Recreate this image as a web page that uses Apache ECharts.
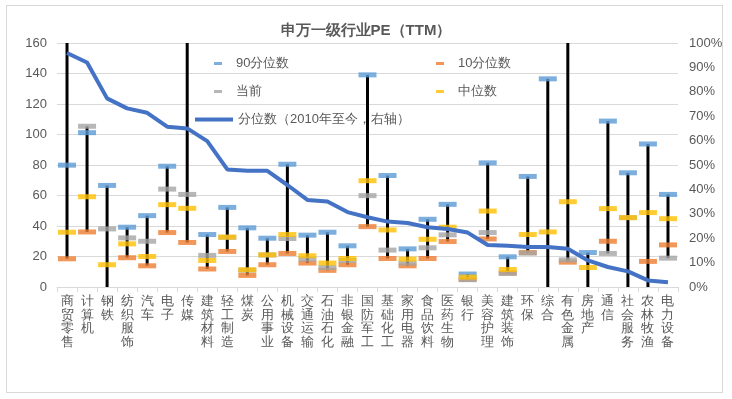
<!DOCTYPE html>
<html>
<head>
<meta charset="utf-8">
<script src="https://cdn.jsdelivr.net/npm/echarts@6/dist/echarts.min.js"></script>
<style>
  html, body { margin: 0; padding: 0; background: #fff; }
  #main { position: absolute; left: 0; top: 0; width: 732px; height: 399px; }
  #frame { position: absolute; left: 6px; top: 5px; width: 715px; height: 386px; border: 1px solid #d9d9d9; pointer-events: none; }
</style>
</head>
<body>
<div id="main"></div>
<div id="frame"></div>
<script>
var categories = ['商贸零售', '计算机', '钢铁', '纺织服饰', '汽车', '电子', '传媒', '建筑材料', '轻工制造', '煤炭',
  '公用事业', '机械设备', '交通运输', '石油石化', '非银金融', '国防军工', '基础化工', '家用电器', '食品饮料', '医药生物',
  '银行', '美容护理', '建筑装饰', '环保', '综合', '有色金属', '房地产', '通信', '社会服务', '农林牧渔', '电力设备'];

// 90分位数
var p90 = [79.9, 101.2, 66.6, 39.2, 46.8, 79.2, 185, 34.4, 52.2, 38.8,
  32.0, 80.5, 34.0, 35.9, 27.0, 139.1, 73.1, 25.0, 44.4, 54.2,
  8.5, 81.4, 19.8, 72.5, 136.5, 200, 22.6, 108.8, 74.9, 93.8, 60.7];
// 10分位数
var p10 = [18.5, 36.1, -5, 19.2, 13.9, 35.7, 29.2, 11.8, 23.3, 7.6,
  14.6, 22.0, 15.7, 10.9, 14.6, 39.6, 18.7, 13.9, 18.7, 29.8,
  5.0, 31.5, 9.2, 22.6, -3, 16.3, -5, 30.0, -3, 16.8, 27.6];
// 当前
var current = [175, 105.4, 38.1, 32.2, 30.0, 64.2, 60.7, 20.7, 32.6, 11.0,
  21.0, 31.8, 18.3, 12.8, 17.4, 59.9, 24.2, 15.7, 25.7, 34.2,
  4.8, 35.7, 8.9, 22.2, -15, 17.8, -10, 22.0, 45.5, -10, 18.9];
// 中位数
var median = [35.9, 59.2, 14.6, 28.3, 20.0, 54.0, 51.6, 17.4, 32.7, 11.3,
  21.1, 34.4, 20.5, 15.7, 18.7, 69.7, 37.4, 18.3, 31.3, 39.2,
  6.5, 49.8, 11.5, 34.4, 36.1, 55.9, 12.8, 51.4, 45.5, 48.8, 44.8];
// 分位数（2010年至今，右轴），%
var pctRank = [95.9, 92.0, 77.3, 73.2, 71.4, 65.7, 65.0, 59.8, 48.2, 47.6,
  47.6, 41.8, 35.7, 35.0, 30.7, 28.6, 26.8, 26.2, 24.5, 23.8,
  22.3, 17.2, 16.9, 16.4, 16.4, 15.7, 10.9, 8.2, 6.4, 2.7, 1.9];

var leftTicks = { min: 0, max: 160, interval: 20 };
var rightTicks = { min: 0, max: 100, interval: 10 };

// 高低线：每个行业四个值的最小、最大
var hiLow = categories.map(function (c, i) {
  var vals = [p90[i], p10[i], current[i], median[i]];
  return [i, Math.min.apply(null, vals), Math.max.apply(null, vals)];
});

var chartDom = document.getElementById('main');
var myChart = echarts.init(chartDom);

var txt = '#595959';
var dash = function (name, data, color) {
  return {
    name: name,
    type: 'scatter',
    data: data,
    symbol: 'rect',
    symbolSize: [18, 5],
    clip: true,
    itemStyle: { color: color },
    z: 5
  };
};

var legendBase = {
  orient: 'horizontal',
  selectedMode: false,
  itemHeight: 3,
  itemWidth: 8,
  textStyle: { color: txt, fontSize: 13, padding: [0, 0, 0, 9] }
};

var option = {
  animation: false,
  title: {
    text: '申万一级行业PE（TTM）',
    left: 'center',
    top: 18,
    textStyle: { fontSize: 15, fontWeight: 'bold', color: txt }
  },
  legend: [
    Object.assign({}, legendBase, { left: 209, top: 52, data: [{ name: '90分位数', icon: 'rect' }] }),
    Object.assign({}, legendBase, { left: 431, top: 52, data: [{ name: '10分位数', icon: 'rect' }] }),
    Object.assign({}, legendBase, { left: 209, top: 80, data: [{ name: '当前', icon: 'rect' }] }),
    Object.assign({}, legendBase, { left: 431, top: 80, data: [{ name: '中位数', icon: 'rect' }] }),
    {
      left: 190, top: 108, selectedMode: false,
      itemWidth: 38, itemHeight: 4,
      textStyle: { color: txt, fontSize: 13 },
      data: [{ name: '分位数（2010年至今，右轴）', icon: 'rect' }]
    }
  ],
  grid: { left: 57, right: 54, top: 43, bottom: 112 },
  xAxis: {
    type: 'category',
    data: categories,
    boundaryGap: true,
    axisLine: { lineStyle: { color: '#d9d9d9' } },
    axisTick: { show: true, length: 5, lineStyle: { color: '#d9d9d9' } },
    axisLabel: {
      interval: 0,
      color: txt,
      fontSize: 13,
      lineHeight: 13.5,
      margin: 8,
      verticalAlign: 'top',
      formatter: function (v) { return v.split('').join('\n'); }
    }
  },
  yAxis: [
    {
      type: 'value',
      min: leftTicks.min, max: leftTicks.max, interval: leftTicks.interval,
      axisLine: { show: false },
      axisTick: { show: false },
      axisLabel: { color: txt, fontSize: 13, margin: 10 },
      splitLine: { lineStyle: { color: '#d9d9d9' } }
    },
    {
      type: 'value',
      min: rightTicks.min, max: rightTicks.max, interval: rightTicks.interval,
      axisLine: { show: false },
      axisTick: { show: false },
      axisLabel: { color: txt, fontSize: 13, margin: 11, formatter: '{value}%' },
      splitLine: { show: false }
    }
  ],
  series: [
    {
      name: '高低线',
      type: 'custom',
      data: hiLow,
      z: 2,
      renderItem: function (params, api) {
        var cs = params.coordSys;
        var top = api.coord([api.value(0), api.value(2)]);
        var bot = api.coord([api.value(0), api.value(1)]);
        var y1 = Math.max(top[1], cs.y);
        var y2 = Math.min(bot[1], cs.y + cs.height);
        return {
          type: 'line',
          shape: { x1: top[0], y1: y1, x2: top[0], y2: y2 },
          style: { stroke: '#000', lineWidth: 3 }
        };
      }
    },
    dash('90分位数', p90, '#5B9BD5'),
    dash('10分位数', p10, '#ED7D31'),
    dash('当前', current, '#A5A5A5'),
    dash('中位数', median, '#FFC000'),
    {
      name: '分位数（2010年至今，右轴）',
      type: 'line',
      yAxisIndex: 1,
      data: pctRank,
      symbol: 'none',
      lineStyle: { color: '#4472C4', width: 4 },
      itemStyle: { color: '#4472C4' },
      z: 10
    }
  ]
};

option && myChart.setOption(option);
</script>
</body>
</html>
